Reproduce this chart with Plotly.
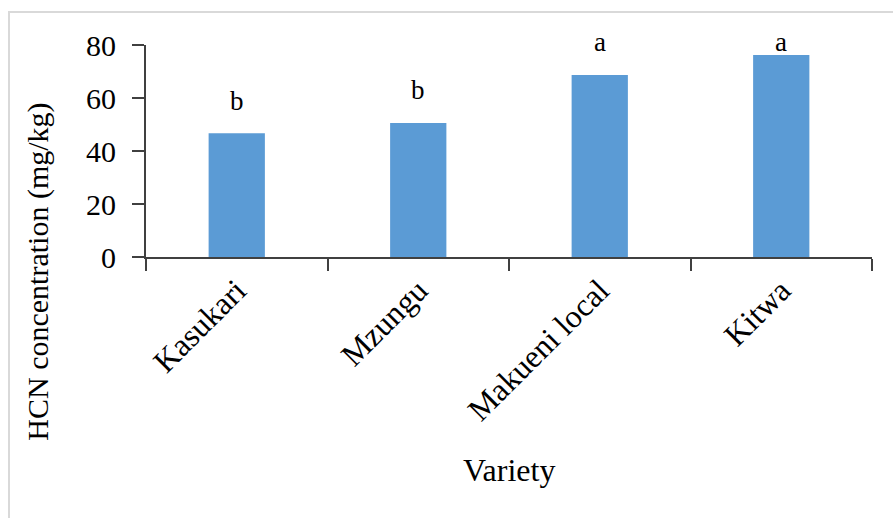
import plotly.graph_objects as go

# HCN concentration by cassava variety, with mean-separation letters
varieties = ["Kasukari", "Mzungu", "Makueni local", "Kitwa"]
hcn_mg_kg = [46.7, 50.6, 68.7, 76.2]
letters = ["b", "b", "a", "a"]
y_ticks = [0, 20, 40, 60, 80]

FONT = "Liberation Serif"
AXIS_COLOR = "#404040"
PLOT_H = 518 - 45 - 261          # plot area height in px
PX_PER_UNIT = PLOT_H / 80.0

fig = go.Figure(
    go.Bar(
        x=varieties,
        y=hcn_mg_kg,
        marker=dict(color="#5b9bd5", line=dict(width=0)),
        hoverinfo="x+y",
    )
)

# significance letters sit above each bar, capped just over the axis top
for v, h, s in zip(varieties, hcn_mg_kg, letters):
    label_y = min(h + 12.3, 81.3)
    fig.add_annotation(
        x=v, y=h, yshift=(label_y - h) * PX_PER_UNIT, text=s, showarrow=False,
        xref="x", yref="y", yanchor="middle",
        font=dict(family=FONT, size=27, color="#000000"),
    )

# axis titles
fig.add_annotation(
    x=0.5, y=-1.005, xref="paper", yref="paper", text="Variety",
    showarrow=False, xanchor="center", yanchor="middle",
    font=dict(family=FONT, size=32, color="#000000"),
)
fig.add_annotation(
    x=-0.149, y=-0.07, xref="paper", yref="paper",
    text="HCN concentration (mg/kg)", textangle=-90,
    showarrow=False, xanchor="center", yanchor="middle",
    font=dict(family=FONT, size=30, color="#000000"),
)

# light frame around the whole chart
fig.add_shape(
    type="rect", xref="paper", yref="paper",
    x0=-0.1887, x1=1.05, y0=-1.3, y1=1.1557,
    line=dict(color="#d9d9d9", width=2), fillcolor="rgba(0,0,0,0)",
    layer="below",
)

fig.update_layout(
    width=893, height=518,
    margin=dict(l=146, r=21, t=45, b=261),
    paper_bgcolor="white", plot_bgcolor="white",
    bargap=0.69,
    showlegend=False,
    font=dict(family=FONT, color="#000000"),
)
fig.update_xaxes(
    type="category",
    tickangle=-45,
    tickson="boundaries",
    ticks="outside", ticklen=12, tickwidth=2, tickcolor=AXIS_COLOR,
    showline=True, linecolor=AXIS_COLOR, linewidth=2,
    showgrid=False, zeroline=False,
    tickfont=dict(family=FONT, size=32, color="#000000"),
)
fig.update_yaxes(
    range=[0, 80],
    tickvals=y_ticks,
    ticks="outside", ticklen=12, tickwidth=2, tickcolor=AXIS_COLOR,
    ticklabelstandoff=10,
    showline=True, linecolor=AXIS_COLOR, linewidth=2,
    showgrid=False, zeroline=False,
    tickfont=dict(family=FONT, size=30, color="#000000"),
)

fig.write_html("out.html")
